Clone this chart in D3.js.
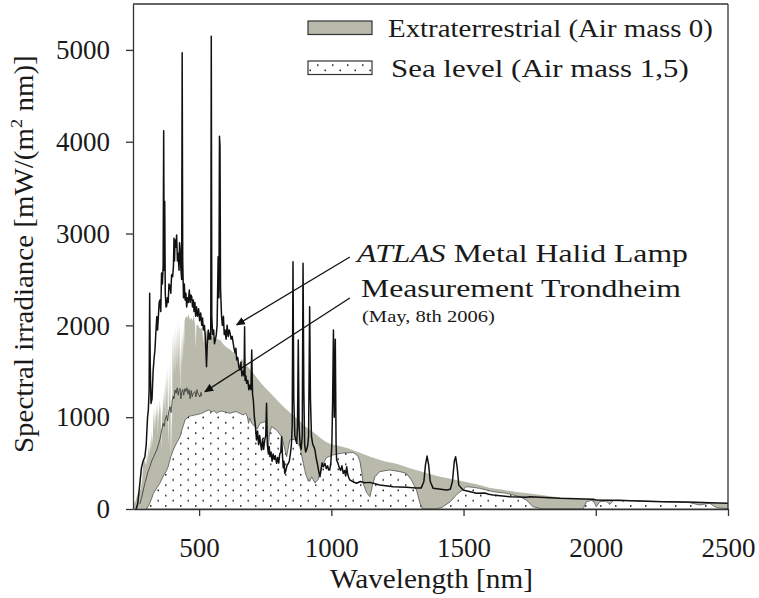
<!DOCTYPE html>
<html>
<head>
<meta charset="utf-8">
<script src="https://cdn.jsdelivr.net/npm/d3@7"></script>
<style>
  html, body { margin: 0; padding: 0; background: #fff; }
  svg { display: block; }
  text { font-family: "Liberation Serif", "Times New Roman", serif; fill: #1a1a1a; }
</style>
</head>
<body>
<svg id="chart" width="759" height="598"></svg>
<script>
// Solar spectra vs. metal halide lamp, wavelength in nm, irradiance in mW/(m^2 nm)

// Extraterrestrial spectrum (Air mass 0); the blue/UV part is full of absorption lines
const am0 = [
  [250, 40], [260, 90], [270, 200], [275, 180], [280, 230], [285, 330], [290, 560], [295, 520],
  [300, 480], [303, 620], [306, 520], [309, 700], [312, 600], [315, 760], [318, 640], [321, 850],
  [324, 700], [327, 980], [330, 1100], [332, 850], [334, 1050], [336, 900], [338, 1150], [340, 1000],
  [342, 1150], [344, 800], [346, 1100], [348, 950], [350, 1200], [352, 1050], [354, 1150], [356, 850],
  [358, 650], [360, 1100], [362, 1000], [364, 1250], [366, 1100], [368, 1350], [370, 1050], [372, 1450],
  [374, 1000], [376, 1500], [378, 1150], [380, 1550], [382, 900], [384, 700], [386, 1500], [388, 1100],
  [390, 1650], [392, 1200], [393, 500], [395, 1100], [397, 600], [399, 1600], [401, 1900], [403, 1400],
  [405, 1950], [407, 1500], [409, 2000], [411, 1450], [413, 1950], [415, 1550], [417, 2050], [419, 1500],
  [421, 2000], [423, 1600], [425, 2050], [427, 1450], [429, 1800], [431, 1200], [433, 1900], [435, 1550],
  [437, 1950], [439, 1600], [441, 2000], [443, 1750], [445, 2050], [450, 2100], [455, 2080], [460, 2120],
  [465, 2060], [470, 2080], [475, 2050], [480, 2110], [485, 2000], [487, 1750], [490, 2000], [495, 2010],
  [500, 1980], [505, 1960], [510, 1980], [515, 1880], [518, 1800], [520, 1880], [525, 1920], [530, 1950],
  [540, 1900], [550, 1880], [560, 1860], [570, 1850], [580, 1840], [590, 1800], [600, 1770], [620, 1730],
  [640, 1680], [656, 1560], [660, 1640], [680, 1560], [700, 1500], [720, 1420], [740, 1350], [760, 1290],
  [780, 1230], [800, 1170], [820, 1110], [840, 1060], [860, 1010], [880, 960], [900, 900], [920, 860],
  [940, 820], [960, 770], [980, 730], [1000, 705], [1030, 685], [1060, 665], [1100, 620], [1150, 565],
  [1200, 520], [1250, 490], [1300, 440], [1350, 400], [1400, 360], [1450, 330], [1500, 300], [1550, 270],
  [1600, 230], [1650, 210], [1700, 185], [1750, 170], [1800, 150], [1850, 130], [1900, 118], [1950, 110],
  [2000, 105], [2100, 95], [2200, 85], [2300, 75], [2400, 68], [2500, 60]
];

// Sea level spectrum (Air mass 1,5)
const am15 = [
  [300, 0], [310, 40], [320, 110], [327, 170], [340, 230], [352, 283], [365, 360], [375, 410],
  [383, 460], [392, 560], [402, 643], [415, 720], [428, 788], [437, 880], [447, 970], [459, 1005],
  [470, 1015], [484, 1024], [495, 1030], [510, 1042], [522, 1060], [535, 1078], [548, 1060], [557, 1070],
  [566, 1042], [575, 1060], [585, 1067], [600, 1055], [617, 1042], [630, 1055], [642, 1060], [655, 1040],
  [667, 1024], [677, 1042], [683, 1000], [687, 933], [691, 990], [699, 933], [711, 897], [720, 870],
  [730, 933], [749, 951], [755, 930], [761, 643], [766, 820], [774, 897], [793, 860], [812, 788],
  [820, 700], [831, 570], [843, 752], [860, 760], [881, 679], [894, 497], [903, 380], [908, 340],
  [918, 300], [926, 350], [938, 283], [950, 320], [963, 461], [982, 560], [1007, 590], [1045, 610],
  [1083, 615], [1100, 580], [1108, 520], [1115, 400], [1120, 283], [1133, 180], [1146, 134], [1155, 250],
  [1165, 352], [1183, 407], [1221, 425], [1259, 407], [1284, 388], [1303, 316], [1322, 207], [1335, 62],
  [1345, 0], [1395, 0], [1420, 20], [1450, 80], [1475, 160], [1495, 205], [1511, 243], [1536, 236],
  [1560, 225], [1587, 207], [1612, 189], [1662, 171], [1713, 134], [1738, 98], [1762, 25], [1800, 0],
  [1952, 0], [1965, 80], [1990, 98], [2002, 25], [2015, 80], [2040, 85], [2053, 50], [2065, 90],
  [2078, 98], [2150, 90], [2254, 80], [2300, 75], [2355, 69], [2393, 44], [2431, 62], [2456, 15],
  [2480, 8], [2500, 5]
];

// Measurement Trondheim (May, 8th 2006)
const trondheim = [
  [276, 55], [283, 130], [289, 207], [295, 280], [300, 330], [306, 400], [314, 461], [320, 520],
  [327, 560], [333, 600], [340, 643], [346, 700], [352, 760], [358, 850], [364, 933], [368, 900],
  [372, 980], [377, 1020], [381, 960], [385, 1060], [390, 1114], [394, 1050], [398, 1180], [402, 1230],
  [405, 1200], [409, 1296], [413, 1260], [417, 1320], [421, 1240], [425, 1300], [428, 1314], [431, 1200],
  [434, 1270], [438, 1300], [442, 1240], [446, 1310], [450, 1280], [454, 1320], [458, 1250], [462, 1300],
  [466, 1200], [470, 1290], [474, 1223], [478, 1260], [484, 1280], [488, 1220], [492, 1300], [496, 1250],
  [500, 1240], [503, 1220], [507, 1270], [510, 1230]
];

// ATLAS metal halide lamp
const lamp = [
  [262, 0], [268, 60], [276, 280], [282, 450], [288, 520], [295, 570], [300, 700], [305, 1000],
  [308, 1078], [311, 1300], [313, 2350], [315, 1600], [318, 1150], [322, 1200], [326, 1500], [330, 1650],
  [333, 1732], [336, 1900], [340, 2095], [343, 1950], [346, 2100], [349, 2250], [352, 2277], [355, 2150],
  [358, 2570], [361, 2450], [364, 2640], [366, 4120], [368, 2600], [370, 3350], [372, 2350], [375, 2200],
  [377, 2204], [380, 2300], [383, 2250], [386, 2450], [390, 2422], [393, 2350], [396, 2550], [400, 2530],
  [403, 2650], [405, 2950], [407, 2700], [409, 2930], [412, 2850], [415, 2985], [418, 2700], [421, 2785],
  [424, 2600], [426, 2900], [428, 2840], [431, 2620], [434, 2500], [436, 4970], [438, 2700], [441, 2300],
  [444, 2450], [447, 2277], [450, 2350], [453, 2200], [456, 2300], [459, 2250], [463, 2385], [466, 2250],
  [469, 2330], [472, 2313], [475, 2200], [478, 2277], [481, 2150], [484, 2250], [487, 2100], [490, 2204],
  [494, 2100], [498, 2180], [502, 2050], [506, 2135], [510, 2000], [513, 2080], [516, 1950], [520, 2000],
  [524, 1850], [528, 1550], [531, 1800], [535, 1950], [538, 1850], [541, 1914], [544, 1850], [546, 5150],
  [548, 2100], [551, 1900], [555, 1950], [558, 1800], [562, 1850], [565, 1900], [568, 2000], [572, 2748],
  [575, 2300], [577, 4060], [579, 3950], [581, 2400], [585, 2095], [588, 2000], [592, 2100], [595, 1900],
  [598, 1950], [602, 1850], [606, 2000], [610, 1880], [614, 1950], [617, 1914], [621, 1850], [625, 1880],
  [629, 1805], [632, 1750], [636, 1700], [639, 1750], [642, 1623], [646, 1650], [650, 1550], [654, 1514],
  [658, 1600], [662, 1450], [666, 1500], [670, 1450], [672, 1986], [674, 1400], [677, 1450], [680, 1369],
  [684, 1400], [688, 1300], [692, 1350], [696, 1300], [699, 1732], [702, 1250], [705, 1187], [709, 1000],
  [713, 900], [717, 752], [721, 850], [725, 700], [729, 800], [733, 700], [736, 643], [740, 760],
  [744, 650], [748, 750], [752, 800], [755, 1151], [758, 700], [762, 600], [765, 680], [768, 570],
  [772, 620], [776, 520], [780, 600], [784, 540], [788, 580], [793, 497], [797, 560], [801, 500],
  [805, 600], [809, 620], [812, 788], [815, 600], [818, 450], [821, 520], [824, 388], [828, 420],
  [832, 470], [837, 497], [841, 520], [845, 600], [849, 700], [852, 900], [855, 2694], [858, 1200],
  [862, 800], [866, 750], [869, 715], [872, 900], [875, 1840], [878, 900], [882, 700], [886, 650],
  [890, 800], [893, 2676], [896, 1300], [899, 700], [903, 620], [907, 650], [911, 700], [914, 800],
  [918, 2204], [921, 1200], [925, 788], [930, 700], [934, 680], [938, 643], [943, 550], [948, 480],
  [953, 400], [957, 352], [961, 420], [965, 500], [970, 460], [976, 497], [981, 440], [986, 470],
  [990, 425], [994, 425], [998, 500], [1002, 700], [1005, 1200], [1008, 1950], [1011, 1000], [1015, 1850],
  [1018, 700], [1020, 534], [1025, 500], [1030, 450], [1035, 420], [1040, 470], [1045, 388], [1050, 420],
  [1054, 360], [1058, 461], [1062, 380], [1066, 340], [1070, 316], [1080, 300], [1095, 280], [1110, 300],
  [1125, 285], [1146, 290], [1183, 261], [1234, 243], [1284, 236], [1320, 228], [1340, 230], [1350, 300],
  [1356, 480], [1362, 577], [1368, 480], [1374, 300], [1385, 225], [1436, 207], [1450, 215], [1458, 300],
  [1465, 520], [1470, 570], [1476, 450], [1482, 260], [1498, 207], [1549, 171], [1580, 175], [1595, 160],
  [1612, 152], [1675, 134], [1738, 127], [1750, 134], [1864, 116], [1990, 105], [2002, 98], [2100, 92],
  [2254, 80], [2350, 75], [2431, 69], [2500, 62]
];

const xTicks = [500, 1000, 1500, 2000, 2500];
const yTicks = [0, 1000, 2000, 3000, 4000, 5000];

const legendItems = ["Extraterrestrial (Air mass 0)", "Sea level (Air mass 1,5)"];

// ---- layout ----
const W = 759, H = 598;
const margin = { left: 133, top: 4, right: 31, bottom: 89 };
const iw = W - margin.left - margin.right;
const ih = H - margin.top - margin.bottom;
const GREY = "#b9baab";

const svg = d3.select("#chart");
const defs = svg.append("defs");

const dots = defs.append("pattern")
  .attr("id", "dots")
  .attr("patternUnits", "userSpaceOnUse")
  .attr("width", 15).attr("height", 10.4);
dots.append("rect").attr("width", 15).attr("height", 10.4).attr("fill", "#fff");
dots.append("rect").attr("x", 2).attr("y", 2).attr("width", 1.5).attr("height", 1.5).attr("fill", "#111");
dots.append("rect").attr("x", 9.5).attr("y", 7.2).attr("width", 1.5).attr("height", 1.5).attr("fill", "#111");

defs.append("clipPath").attr("id", "plotclip")
  .append("rect").attr("width", iw).attr("height", ih);

defs.append("marker")
  .attr("id", "arrowhead")
  .attr("viewBox", "0 0 10 10")
  .attr("refX", 9).attr("refY", 5)
  .attr("markerWidth", 9).attr("markerHeight", 9)
  .attr("markerUnits", "userSpaceOnUse")
  .attr("orient", "auto")
  .append("path").attr("d", "M0,0.5 L10,5 L0,9.5 Z").attr("fill", "#111");

// stretch a text element horizontally so that it spans the given width
function fitWidth(sel, x0, y0, width, rotate) {
  const node = sel.node();
  const natural = node.getComputedTextLength();
  const s = width / natural;
  sel.attr("x", 0).attr("y", 0)
    .attr("transform", `translate(${x0},${y0})${rotate ? ` rotate(${rotate})` : ""} scale(${s},1)`);
}

const g = svg.append("g").attr("transform", `translate(${margin.left},${margin.top})`);

const x = d3.scaleLinear().domain([250, 2500]).range([0, iw]);
const y = d3.scaleLinear().domain([0, 5500]).range([ih, 0]);

const area = d3.area().x(d => x(d[0])).y0(y(0)).y1(d => y(d[1]));
const line = d3.line().x(d => x(d[0])).y(d => y(d[1]));

const plot = g.append("g").attr("clip-path", "url(#plotclip)");

plot.append("path").datum(am0).attr("d", area)
  .attr("fill", GREY).attr("stroke", "none");

plot.append("path").datum(am15).attr("d", area)
  .attr("fill", "url(#dots)").attr("stroke", "#555").attr("stroke-width", 0.8);

plot.append("path").datum(trondheim).attr("d", line)
  .attr("fill", "none").attr("stroke", "#333").attr("stroke-width", 0.8);

plot.append("path").datum(lamp).attr("d", line)
  .attr("fill", "none").attr("stroke", "#111").attr("stroke-width", 1.5)
  .attr("stroke-linejoin", "round");

// frame
g.append("line").attr("x1", 0).attr("x2", iw).attr("y1", 0).attr("y2", 0)
  .attr("stroke", "#333").attr("stroke-width", 1.3);
g.append("line").attr("x1", iw).attr("x2", iw).attr("y1", 0).attr("y2", ih)
  .attr("stroke", "#333").attr("stroke-width", 1.3);

// axes
const fmt = d3.format("d");
const xAxis = g.append("g").attr("transform", `translate(0,${ih})`)
  .call(d3.axisBottom(x).tickValues(xTicks).tickFormat(fmt).tickSize(7).tickSizeOuter(0).tickPadding(22));
const yAxis = g.append("g")
  .call(d3.axisLeft(y).tickValues(yTicks).tickFormat(fmt).tickSize(7).tickSizeOuter(0).tickPadding(16));

[xAxis, yAxis].forEach(a => {
  a.selectAll("path, line").attr("stroke", "#333").attr("stroke-width", 1.3);
  a.selectAll("text").attr("font-family", "Liberation Serif, Times New Roman, serif")
    .attr("font-size", 27).attr("fill", "#1a1a1a");
});
xAxis.selectAll("text").attr("dy", null).attr("y", 7 + 22 + 19);

// axis titles
const xt = svg.append("text").attr("font-size", 27).text("Wavelength [nm]");
fitWidth(xt, 330, 588, 203);

const yt = svg.append("text").attr("font-size", 27);
yt.append("tspan").text("Spectral irradiance [mW/(m");
yt.append("tspan").attr("font-size", 17).attr("dy", -11).text("2");
yt.append("tspan").attr("dy", 11).text(" nm)]");
fitWidth(yt, 33, 453, 398, -90);

// legend
legendItems.forEach((label, i) => {
  const top = 21 + i * 40;
  svg.append("rect").attr("x", 308).attr("y", top).attr("width", 64).attr("height", 13.5)
    .attr("fill", i === 0 ? GREY : "url(#dots)")
    .attr("stroke", "#333").attr("stroke-width", 1.2);
  const t = svg.append("text").attr("font-size", 26).text(label);
  fitWidth(t, i === 0 ? 388 : 391, top + 16, i === 0 ? 325 : 298);
});

// annotations with arrows
const a1 = svg.append("text").attr("font-size", 26);
a1.append("tspan").attr("font-style", "italic").text("ATLAS");
a1.append("tspan").text(" Metal Halid Lamp");
fitWidth(a1, 357, 262, 331);
const a2 = svg.append("text").attr("font-size", 26).text("Measurement Trondheim");
fitWidth(a2, 361, 297, 320);
const a3 = svg.append("text").attr("font-size", 17).text("(May, 8th 2006)");
fitWidth(a3, 362, 322, 133);

const arrows = [
  { from: [1070, 2745], to: [642, 2005] },
  { from: [1070, 2298], to: [522, 1278] }
];
arrows.forEach(a => {
  g.append("line")
    .attr("x1", x(a.from[0])).attr("y1", y(a.from[1]))
    .attr("x2", x(a.to[0])).attr("y2", y(a.to[1]))
    .attr("stroke", "#111").attr("stroke-width", 1.3)
    .attr("marker-end", "url(#arrowhead)");
});
</script>
</body>
</html>
